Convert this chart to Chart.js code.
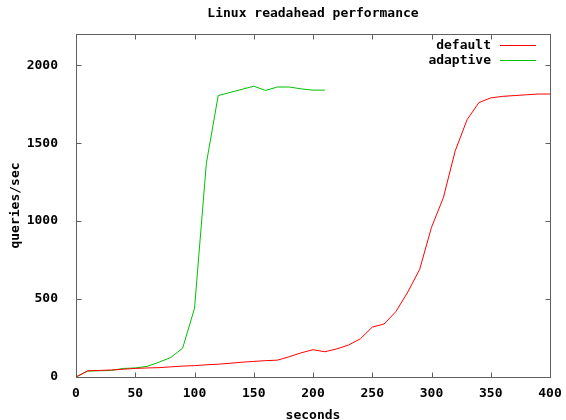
<!DOCTYPE html>
<html lang="en">
<head>
<meta charset="UTF-8">
<script src="https://cdn.jsdelivr.net/npm/chart.js"></script>
<title>Linux readahead performance</title>
<style>
    html, body { margin: 0; padding: 0; background: #fff; }
</style>
</head>
<body>
<canvas id="myChart" width="566" height="420"></canvas>
<script>
// values
const defaultSeconds = [0, 10, 20, 30, 40, 50, 60, 70, 80, 90, 100, 110, 120, 130, 140, 150, 160, 170, 180, 190, 200,
    210, 220, 230, 240, 250, 260, 270, 280, 290, 300, 310, 320, 330, 340, 350, 360, 370, 380, 390, 400];
const defaultQps = [0, 40, 42, 45, 50, 55, 58, 60, 65, 70, 73, 78, 82, 88, 95, 100, 105, 108, 130, 155, 175,
    162, 180, 205, 245, 320, 340, 420, 545, 690, 960, 1150, 1450, 1650, 1760, 1790, 1800, 1805, 1810, 1815, 1815];

const adaptiveSeconds = [0, 10, 20, 30, 40, 50, 60, 70, 80, 90, 100, 110, 120, 130, 140, 150, 160, 170, 180, 190, 200, 210];
const adaptiveQps = [0, 38, 40, 42, 55, 58, 68, 95, 125, 185, 440, 1370, 1805, 1825, 1845, 1865, 1838, 1860, 1860, 1848, 1840, 1840];

const xTicks = [0, 50, 100, 150, 200, 250, 300, 350, 400];
const yTicks = [0, 500, 1000, 1500, 2000];

const chartTitle = 'Linux readahead performance';
const FONT = '"DejaVu Sans Mono", "Liberation Mono", monospace';

// gnuplot style box, inward ticks on all sides, title over the plot and the key
const gnuFrame = {
    id: 'gnuFrame',
    afterDatasetsDraw(chart) {
        const ctx = chart.ctx;
        const a = chart.chartArea;
        const xs = chart.scales.x;
        const ys = chart.scales.y;
        const L = Math.round(a.left) + 0.5, R = Math.round(a.right) + 0.5;
        const T = Math.round(a.top) + 0.5, B = Math.round(a.bottom) + 0.5;
        ctx.save();
        ctx.strokeStyle = '#606060';
        ctx.lineWidth = 1;
        ctx.strokeRect(L, T, R - L, B - T);
        ctx.beginPath();
        xTicks.forEach(v => {
            const px = Math.round(xs.getPixelForValue(v)) + 0.5;
            ctx.moveTo(px, B); ctx.lineTo(px, B - 5);
            ctx.moveTo(px, T); ctx.lineTo(px, T + 5);
        });
        yTicks.forEach(v => {
            const py = Math.round(ys.getPixelForValue(v)) + 0.5;
            ctx.moveTo(L, py); ctx.lineTo(L + 5, py);
            ctx.moveTo(R, py); ctx.lineTo(R - 5, py);
        });
        ctx.stroke();

        ctx.font = 'bold 13px ' + FONT;
        ctx.fillStyle = '#000';
        ctx.textBaseline = 'middle';

        // title is centred over the plot area, not the canvas
        ctx.textAlign = 'center';
        ctx.fillText(chartTitle, (a.left + a.right) / 2, 14);

        // key, text first then the line sample
        ctx.textAlign = 'right';
        chart.data.datasets.forEach((ds, i) => {
            const rowY = Math.round(a.top + 11 + i * 15) + 0.5;
            ctx.fillStyle = '#000';
            ctx.fillText(ds.label, a.right - 59, rowY);
            ctx.strokeStyle = ds.borderColor;
            ctx.beginPath();
            ctx.moveTo(a.right - 50, rowY);
            ctx.lineTo(a.right - 14, rowY);
            ctx.stroke();
        });
        ctx.restore();
    }
};

const ctx = document.getElementById('myChart').getContext('2d');
const myChart = new Chart(ctx, {
    type: 'line',
    data: {
        datasets: [{
            label: 'default',
            data: defaultSeconds.map((s, i) => ({ x: s, y: defaultQps[i] })),
            borderColor: '#ff0000',
            borderWidth: 1,
            pointRadius: 0,
            tension: 0
        },
        {
            label: 'adaptive',
            data: adaptiveSeconds.map((s, i) => ({ x: s, y: adaptiveQps[i] })),
            borderColor: '#00c000',
            borderWidth: 1,
            pointRadius: 0,
            tension: 0
        }]
    },
    options: {
        responsive: false,
        animation: false,
        layout: { padding: { top: 34, right: 16, bottom: 0, left: 0 } },
        plugins: {
            legend: { display: false },
            tooltip: { enabled: false },
            title: { display: false }
        },
        scales: {
            x: {
                type: 'linear',
                min: 0,
                max: 400,
                grid: { display: false },
                border: { display: false },
                afterBuildTicks: (scale) => { scale.ticks = xTicks.map(v => ({ value: v })); },
                afterFit: (scale) => { scale.height = 43; },
                ticks: {
                    color: '#000',
                    padding: 1,
                    maxRotation: 0,
                    callback: (v) => String(v),
                    font: { family: FONT, size: 13, weight: 'bold' }
                },
                title: {
                    display: true,
                    text: 'seconds',
                    color: '#000',
                    font: { family: FONT, size: 13, weight: 'bold', lineHeight: 0.7 },
                    padding: { top: 0, bottom: 0 }
                }
            },
            y: {
                min: 0,
                max: 2200,
                grid: { display: false },
                border: { display: false },
                afterBuildTicks: (scale) => { scale.ticks = yTicks.map(v => ({ value: v })); },
                afterFit: (scale) => { scale.width = 76; },
                ticks: {
                    color: '#000',
                    padding: 10,
                    callback: (v) => String(v),
                    font: { family: FONT, size: 13, weight: 'bold' }
                },
                title: {
                    display: true,
                    text: 'queries/sec',
                    color: '#000',
                    font: { family: FONT, size: 13, weight: 'bold', lineHeight: 1 },
                    padding: { top: 9, bottom: 0 }
                }
            }
        }
    },
    plugins: [gnuFrame]
});
</script>
</body>
</html>
